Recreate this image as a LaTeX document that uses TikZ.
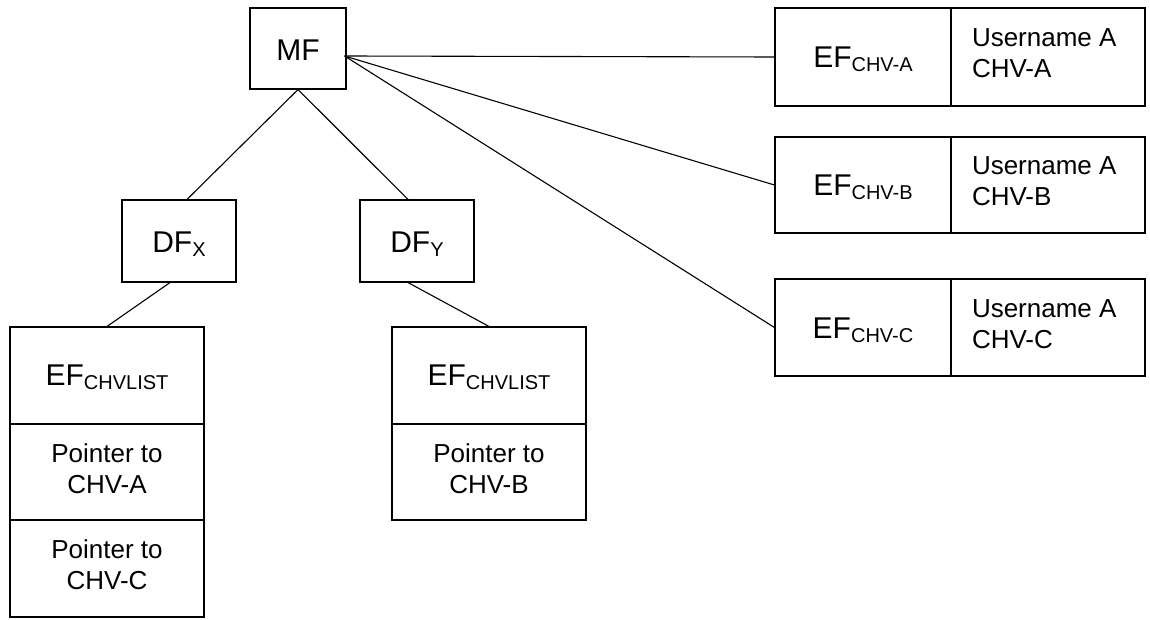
\documentclass[tikz,border=0pt]{standalone}
\usepackage{fontspec}
\setmainfont{Liberation Sans}
% lowered, smaller subscript used in the file identifiers
\newcommand{\fsub}[1]{\raisebox{-4bp}{\fontsize{20bp}{20bp}\selectfont #1}}
\begin{document}
\begin{tikzpicture}[x=1bp,y=-1bp,line width=1.1bp,
  box/.style={draw,inner sep=0pt},
  txt/.style={inner sep=0pt,anchor=base,font=\fontsize{26bp}{31bp}\selectfont},
  big/.style={inner sep=0pt,anchor=base,font=\fontsize{30bp}{36bp}\selectfont}]
\useasboundingbox (0,0) rectangle (1150,620);

% master file and dedicated files
\node[box,minimum width=96bp,minimum height=81bp] (MF) at (298,48.5) {};
\node[box,minimum width=114bp,minimum height=82bp] (DFx) at (179,241) {};
\node[box,minimum width=114bp,minimum height=82bp] (DFy) at (417,241) {};
\node[big] (tMF) at ([yshift=-12bp]MF.center) {MF};
\node[big] (tDFx) at ([yshift=-12bp]DFx.center) {DF\fsub{X}};
\node[big] (tDFy) at ([yshift=-12bp]DFy.center) {DF\fsub{Y}};

% CHV list under DF_X
\node[box,minimum width=194bp,minimum height=97bp] (lhead) at (107,375.5) {};
\node[box,minimum width=194bp,minimum height=96bp] (lpa) at (107,472) {};
\node[box,minimum width=194bp,minimum height=97bp] (lpc) at (107,568.5) {};
\node[big] (tlhead) at ([yshift=-10bp]lhead.center) {EF\fsub{CHVLIST}};
\node[txt] (tlpa1) at ([yshift=10bp]lpa.center) {Pointer to};
\node[txt] (tlpa2) at ([yshift=-21bp]lpa.center) {CHV-A};
\node[txt] (tlpc1) at ([yshift=10bp]lpc.center) {Pointer to};
\node[txt] (tlpc2) at ([yshift=-21bp]lpc.center) {CHV-C};

% CHV list under DF_Y
\node[box,minimum width=194bp,minimum height=97bp] (rhead) at (489,375.5) {};
\node[box,minimum width=194bp,minimum height=96bp] (rpb) at (489,472) {};
\node[big] (trhead) at ([yshift=-10bp]rhead.center) {EF\fsub{CHVLIST}};
\node[txt] (trpb1) at ([yshift=10bp]rpb.center) {Pointer to};
\node[txt] (trpb2) at ([yshift=-21bp]rpb.center) {CHV-B};

% CHV elementary files
\node[box,minimum width=176bp,minimum height=98bp] (efA) at (863,57) {};
\node[box,minimum width=194bp,minimum height=98bp] (unA) at (1048,57) {};
\node[box,minimum width=176bp,minimum height=96bp] (efB) at (863,185) {};
\node[box,minimum width=194bp,minimum height=96bp] (unB) at (1048,185) {};
\node[box,minimum width=176bp,minimum height=97bp] (efC) at (863,327.5) {};
\node[box,minimum width=194bp,minimum height=97bp] (unC) at (1048,327.5) {};
\node[big] (tefA) at ([yshift=-11bp]efA.center) {EF\fsub{CHV-A}};
\node[big] (tefB) at ([yshift=-11bp]efB.center) {EF\fsub{CHV-B}};
\node[big] (tefC) at ([yshift=-11bp]efC.center) {EF\fsub{CHV-C}};
\node[txt,anchor=base west] (tunA1) at ([xshift=21bp,yshift=10bp]unA.west) {Username A};
\node[txt,anchor=base west] (tunA2) at ([xshift=21bp,yshift=-21bp]unA.west) {CHV-A};
\node[txt,anchor=base west] (tunB1) at ([xshift=21bp,yshift=10bp]unB.west) {Username A};
\node[txt,anchor=base west] (tunB2) at ([xshift=21bp,yshift=-21bp]unB.west) {CHV-B};
\node[txt,anchor=base west] (tunC1) at ([xshift=21bp,yshift=10bp]unC.west) {Username A};
\node[txt,anchor=base west] (tunC2) at ([xshift=21bp,yshift=-21bp]unC.west) {CHV-C};

% tree connectors
\coordinate (mfr) at ([xshift=-2bp,yshift=-7.5bp]MF.east);
\draw (MF.south) -- ([xshift=8bp]DFx.north);
\draw (MF.south) -- ([xshift=-9bp]DFy.north);
\draw ([xshift=-9bp]DFx.south) -- (lhead.north);
\draw ([xshift=-9bp]DFy.south) -- (rhead.north);
\draw (mfr) -- (efA.west);
\draw (mfr) -- (efB.west);
\draw (mfr) -- (efC.west);
\end{tikzpicture}
\end{document}
